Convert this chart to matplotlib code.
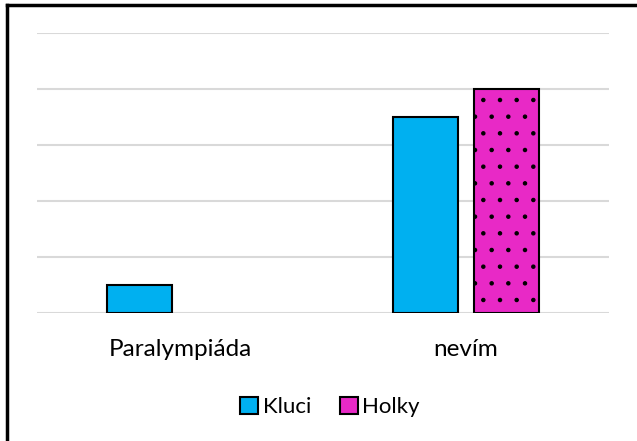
import matplotlib.pyplot as plt
from matplotlib.lines import Line2D
import numpy as np

categories = ['Paralympiáda', 'nevím']
kluci = [1, 7]
holky = [0, 8]
series_names = ['Kluci', 'Holky']

plt.rcParams['font.family'] = ['Lato', 'DejaVu Sans']
plt.rcParams['hatch.color'] = '#1a1a1a'
plt.rcParams['hatch.linewidth'] = 0.8

fig = plt.figure(figsize=(6.37, 4.41), dpi=100)
ax = fig.add_axes([37/637, 128/441, (609-37)/637, (313-33)/441])

x = np.arange(len(categories))
w = 0.227
off = 0.143

# no outline for empty bars
lw_k = [1.5 if v > 0 else 0 for v in kluci]
lw_h = [1.5 if v > 0 else 0 for v in holky]

ax.bar(x - off, kluci, w, color='#00B0F0', edgecolor='black', linewidth=lw_k,
       label=series_names[0], zorder=3)
ax.bar(x + off, holky, w, color='#E829C6', edgecolor='black', linewidth=lw_h,
       hatch='.', label=series_names[1], zorder=3)

ax.set_xlim(-0.5, 1.5)
ax.set_ylim(0, 10)
ax.set_yticks(np.arange(0, 11, 2))
ax.set_yticklabels([])
ax.yaxis.grid(True, color='#D9D9D9', linewidth=1.5)
ax.set_axisbelow(True)
for sp in ax.spines.values():
    sp.set_visible(False)
ax.tick_params(axis='both', length=0)
ax.set_xticks(x)
ax.set_xticklabels(categories, fontsize=17.5)
ax.tick_params(axis='x', pad=19)

handles = [plt.Rectangle((0, 0), 1, 1, facecolor='#00B0F0', edgecolor='black', linewidth=1.5),
           plt.Rectangle((0, 0), 1, 1, facecolor='#E829C6', edgecolor='black', linewidth=1.5)]
leg = fig.legend(handles, series_names, loc='center',
                 bbox_to_anchor=(330/637, 1 - 407/441), ncol=2,
                 frameon=False, fontsize=16, handlelength=0.8, handleheight=0.8,
                 handletextpad=0.2, columnspacing=1.3)

# chart frame (cropped on right and bottom)
fig.add_artist(Line2D([7/637, 7/637], [0, 1 - 5/441], color='black', linewidth=2.5,
                      transform=fig.transFigure))
fig.add_artist(Line2D([7/637, 1], [1 - 5/441, 1 - 5/441], color='black', linewidth=2.5,
                      transform=fig.transFigure))

fig.savefig('out.png', dpi=100)
